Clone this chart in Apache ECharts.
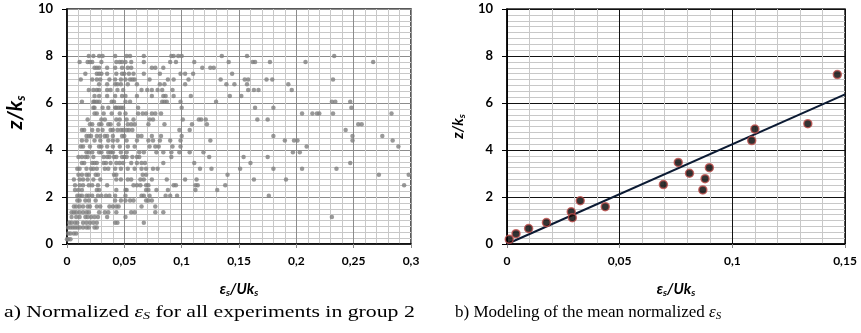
<!DOCTYPE html>
<html>
<head>
<meta charset="utf-8">
<script src="https://cdn.jsdelivr.net/npm/echarts@6/dist/echarts.min.js"></script>
<style>
  html, body { margin: 0; padding: 0; background: #fff; }
  #chart { width: 861px; height: 333px; }
</style>
</head>
<body>
<div id="chart"></div>
<script>
// a) all experiments: one row of x values per z/ks level
var levelsA = [8.0, 7.75, 7.5, 7.25, 7.0, 6.8, 6.55, 6.3, 6.05, 5.8, 5.55, 5.3, 5.1, 4.85, 4.6, 4.4, 4.15,
  3.9, 3.7, 3.45, 3.2, 2.95, 2.75, 2.5, 2.3, 2.05, 1.85, 1.6, 1.35, 1.15, 0.9, 0.7, 0.45, 0.2];
var rowsA = [
  [0.019, 0.023, 0.028, 0.031, 0.042, 0.052, 0.055, 0.067, 0.091, 0.093, 0.097, 0.100, 0.135, 0.157, 0.233],
  [0.011, 0.018, 0.020, 0.022, 0.030, 0.043, 0.046, 0.048, 0.051, 0.056, 0.067, 0.090, 0.095, 0.111, 0.141, 0.162, 0.164, 0.177, 0.208, 0.267],
  [0.024, 0.026, 0.028, 0.035, 0.042, 0.048, 0.053, 0.056, 0.074, 0.077, 0.084, 0.118, 0.125, 0.128],
  [0.016, 0.026, 0.028, 0.030, 0.035, 0.043, 0.048, 0.050, 0.054, 0.058, 0.067, 0.081, 0.099, 0.103, 0.110, 0.144],
  [0.012, 0.022, 0.026, 0.029, 0.037, 0.042, 0.047, 0.051, 0.055, 0.057, 0.059, 0.072, 0.088, 0.093, 0.106, 0.134, 0.155, 0.158, 0.174, 0.179, 0.232],
  [0.028, 0.035, 0.042, 0.044, 0.047, 0.053, 0.061, 0.081, 0.085, 0.103, 0.139, 0.146, 0.157, 0.193],
  [0.019, 0.023, 0.026, 0.028, 0.035, 0.038, 0.044, 0.049, 0.065, 0.070, 0.074, 0.079, 0.083, 0.092, 0.158, 0.163, 0.167, 0.196],
  [0.024, 0.028, 0.035, 0.042, 0.048, 0.051, 0.061, 0.074, 0.084, 0.086, 0.093, 0.108, 0.142, 0.152],
  [0.013, 0.023, 0.024, 0.026, 0.028, 0.039, 0.041, 0.051, 0.055, 0.083, 0.085, 0.087, 0.099, 0.130, 0.231, 0.234, 0.247],
  [0.023, 0.024, 0.031, 0.036, 0.042, 0.043, 0.045, 0.047, 0.049, 0.062, 0.100, 0.164, 0.180, 0.248],
  [0.024, 0.026, 0.032, 0.039, 0.046, 0.051, 0.062, 0.066, 0.069, 0.074, 0.077, 0.082, 0.205, 0.214, 0.218, 0.220, 0.232, 0.283],
  [0.018, 0.030, 0.033, 0.043, 0.046, 0.052, 0.058, 0.072, 0.075, 0.101, 0.115, 0.117, 0.121, 0.166, 0.175],
  [0.020, 0.022, 0.028, 0.030, 0.036, 0.038, 0.045, 0.053, 0.056, 0.059, 0.071, 0.085, 0.109, 0.122, 0.254, 0.257],
  [0.013, 0.015, 0.022, 0.027, 0.031, 0.038, 0.040, 0.044, 0.047, 0.049, 0.052, 0.054, 0.057, 0.098, 0.107, 0.243],
  [0.017, 0.019, 0.021, 0.026, 0.029, 0.033, 0.035, 0.040, 0.048, 0.050, 0.062, 0.065, 0.074, 0.082, 0.100, 0.180, 0.249, 0.275],
  [0.013, 0.017, 0.024, 0.029, 0.036, 0.040, 0.044, 0.052, 0.061, 0.071, 0.075, 0.081, 0.090, 0.099, 0.125, 0.190, 0.198, 0.201, 0.249, 0.284],
  [0.012, 0.014, 0.020, 0.028, 0.030, 0.035, 0.040, 0.046, 0.053, 0.059, 0.072, 0.077, 0.080, 0.092, 0.099, 0.209, 0.289],
  [0.017, 0.019, 0.022, 0.028, 0.030, 0.036, 0.038, 0.040, 0.047, 0.052, 0.063, 0.067, 0.078, 0.084, 0.091, 0.098, 0.107, 0.119, 0.197, 0.203],
  [0.010, 0.013, 0.016, 0.018, 0.023, 0.032, 0.035, 0.037, 0.041, 0.043, 0.048, 0.050, 0.052, 0.057, 0.061, 0.063, 0.091, 0.124, 0.154, 0.175],
  [0.013, 0.015, 0.022, 0.024, 0.026, 0.032, 0.034, 0.038, 0.043, 0.046, 0.049, 0.056, 0.061, 0.065, 0.068, 0.084, 0.111, 0.160, 0.247],
  [0.009, 0.011, 0.017, 0.021, 0.023, 0.026, 0.033, 0.036, 0.042, 0.047, 0.053, 0.059, 0.065, 0.069, 0.075, 0.079, 0.116, 0.126, 0.151, 0.180, 0.205, 0.235],
  [0.010, 0.013, 0.017, 0.019, 0.025, 0.027, 0.041, 0.043, 0.066, 0.069, 0.140, 0.272, 0.298],
  [0.006, 0.011, 0.014, 0.018, 0.023, 0.029, 0.043, 0.047, 0.053, 0.056, 0.064, 0.067, 0.074, 0.087, 0.103, 0.113, 0.163, 0.191],
  [0.007, 0.011, 0.014, 0.019, 0.022, 0.027, 0.035, 0.058, 0.061, 0.064, 0.069, 0.071, 0.093, 0.095, 0.112, 0.114, 0.138, 0.294],
  [0.007, 0.010, 0.013, 0.026, 0.028, 0.043, 0.051, 0.052, 0.069, 0.071, 0.078, 0.088, 0.112, 0.131],
  [0.009, 0.011, 0.013, 0.017, 0.019, 0.022, 0.027, 0.030, 0.034, 0.037, 0.042, 0.051, 0.065, 0.067, 0.072, 0.086, 0.090, 0.096, 0.176],
  [0.009, 0.011, 0.016, 0.019, 0.025, 0.042, 0.047, 0.051, 0.055, 0.058, 0.069, 0.071, 0.074],
  [0.006, 0.008, 0.011, 0.014, 0.018, 0.020, 0.026, 0.029, 0.037, 0.040, 0.043, 0.045, 0.065, 0.077],
  [0.004, 0.006, 0.008, 0.011, 0.014, 0.017, 0.019, 0.028, 0.033, 0.036, 0.043, 0.056, 0.059, 0.077, 0.084],
  [0.004, 0.008, 0.011, 0.016, 0.018, 0.021, 0.024, 0.027, 0.035, 0.051, 0.231],
  [0.002, 0.004, 0.007, 0.009, 0.014, 0.017, 0.020, 0.023, 0.026, 0.042, 0.044, 0.067],
  [0.001, 0.003, 0.005, 0.007, 0.009, 0.011, 0.014, 0.017, 0.019, 0.024, 0.026],
  [0.001, 0.003, 0.006, 0.008],
  [0.000, 0.001, 0.003]
];

// b) mean values and fitted line
var meanX = [0.001, 0.004, 0.0096, 0.0175, 0.0285, 0.029, 0.0325, 0.0436, 0.0694, 0.076, 0.081,
  0.0898, 0.0879, 0.0869, 0.1086, 0.110, 0.1335, 0.1466];
var meanY = [0.2, 0.44, 0.66, 0.91, 1.37, 1.12, 1.84, 1.59, 2.53, 3.47, 3.01,
  3.25, 2.78, 2.30, 4.40, 4.89, 5.12, 7.21];
var fitX = [0, 0.15];
var fitY = [0, 6.37];

var pointsA = [];
levelsA.forEach(function (z, i) {
  rowsA[i].forEach(function (x) { pointsA.push([x, z]); });
});
var pointsB = meanX.map(function (x, i) { return [x, meanY[i]]; });
var lineB = fitX.map(function (x, i) { return [x, fitY[i]]; });

var myChart = echarts.init(document.getElementById("chart"));

function comma(v) {
  return String(v).replace(".", ",");
}

var boldFont = "Lato";
function nameRich(size, subSize, pad) {
  return {
    i: { fontFamily: boldFont, fontWeight: "bold", fontStyle: "italic", fontSize: size, color: "#000" },
    sub: { fontFamily: boldFont, fontWeight: "bold", fontStyle: "italic", fontSize: subSize, color: "#000", padding: [pad, 0, 0, 0] }
  };
}

function xAxisCfg(idx, max, majorColor) {
  return {
    gridIndex: idx,
    type: "value",
    min: 0,
    max: max,
    interval: 0.05,
    name: "{i|ε}{sub|s}{i|/Uk}{sub|s}",
    nameLocation: "middle",
    nameGap: 36,
    nameTextStyle: { rich: nameRich(15, 10, 8) },
    axisLine: { show: true, onZero: false, lineStyle: { color: "#000", width: 1.5 } },
    axisTick: { show: true, length: 4, lineStyle: { color: "#888" } },
    axisLabel: {
      margin: 11,
      fontFamily: boldFont, fontWeight: "bold", fontSize: 12, color: "#000",
      formatter: comma
    },
    splitLine: { show: true, lineStyle: { color: majorColor, width: 1 } },
    minorTick: { show: false, splitNumber: 5 },
    minorSplitLine: { show: true, lineStyle: { color: "#c8c8c8", width: 1 } }
  };
}

function yAxisCfg(idx, majorColor, rich, gap, namePad) {
  return {
    gridIndex: idx,
    type: "value",
    min: 0,
    max: 10,
    interval: 2,
    name: "{i|z/k}{sub|s}",
    nameLocation: "middle",
    nameRotate: 90,
    nameGap: gap,
    nameTextStyle: { rich: rich, padding: namePad },
    axisLine: { show: true, lineStyle: { color: "#000", width: 1.5 } },
    axisTick: { show: true, length: 5, lineStyle: { color: "#000" } },
    axisLabel: {
      margin: 14,
      fontFamily: boldFont, fontWeight: "bold", fontSize: 13, color: "#000"
    },
    splitLine: { show: true, lineStyle: { color: majorColor, width: 1 } },
    minorTick: { show: false, splitNumber: 8 },
    minorSplitLine: { show: true, lineStyle: { color: "#c8c8c8", width: 1 } }
  };
}

var capStyle = {
  i: { fontFamily: "Liberation Serif", fontSize: 17, fontStyle: "italic", fill: "#000" },
  sub: { fontFamily: "Liberation Serif", fontSize: 11, fontStyle: "italic", fill: "#000", padding: [7, 0, 0, 0] },
  n: { fontFamily: "Liberation Serif", fontSize: 17, fill: "#000" }
};

var option = {
  animation: false,
  grid: [
    { left: 67, right: 450, top: 9, bottom: 89, show: true, borderColor: "#222", borderWidth: 1.5 },
    { left: 507, right: 16, top: 9, bottom: 89, show: true, borderColor: "#222", borderWidth: 1.5 }
  ],
  xAxis: [xAxisCfg(0, 0.3, "#8c8c8c"), xAxisCfg(1, 0.15, "#111")],
  yAxis: [
    yAxisCfg(0, "#8c8c8c", nameRich(21, 13, 10), 40, [0, 0, 0, 28]),
    yAxisCfg(1, "#111", nameRich(15, 10, 8), 40, 0)
  ],
  series: [
    {
      type: "scatter",
      xAxisIndex: 0,
      yAxisIndex: 0,
      symbolSize: 4.5,
      itemStyle: { color: "#808080" },
      data: pointsA
    },
    {
      type: "line",
      xAxisIndex: 1,
      yAxisIndex: 1,
      symbol: "none",
      lineStyle: { color: "#0b1a33", width: 2 },
      data: lineB,
      z: 3
    },
    {
      type: "scatter",
      xAxisIndex: 1,
      yAxisIndex: 1,
      symbolSize: 8,
      itemStyle: { color: "#000", borderColor: "#c0504d", borderWidth: 1.5 },
      data: pointsB,
      z: 4
    }
  ],
  graphic: [
    {
      type: "text",
      left: 4,
      top: 304,
      scaleX: 1.28,
      style: {
        text: "{n|a) Normalized }{i|ε}{sub|S}{n| for all experiments in group 2}",
        rich: capStyle
      }
    },
    {
      type: "text",
      left: 455,
      top: 304,
      style: {
        text: "{n|b) Modeling of the mean normalized }{i|ε}{sub|S}",
        rich: capStyle
      }
    }
  ]
};

myChart.setOption(option);
</script>
</body>
</html>
